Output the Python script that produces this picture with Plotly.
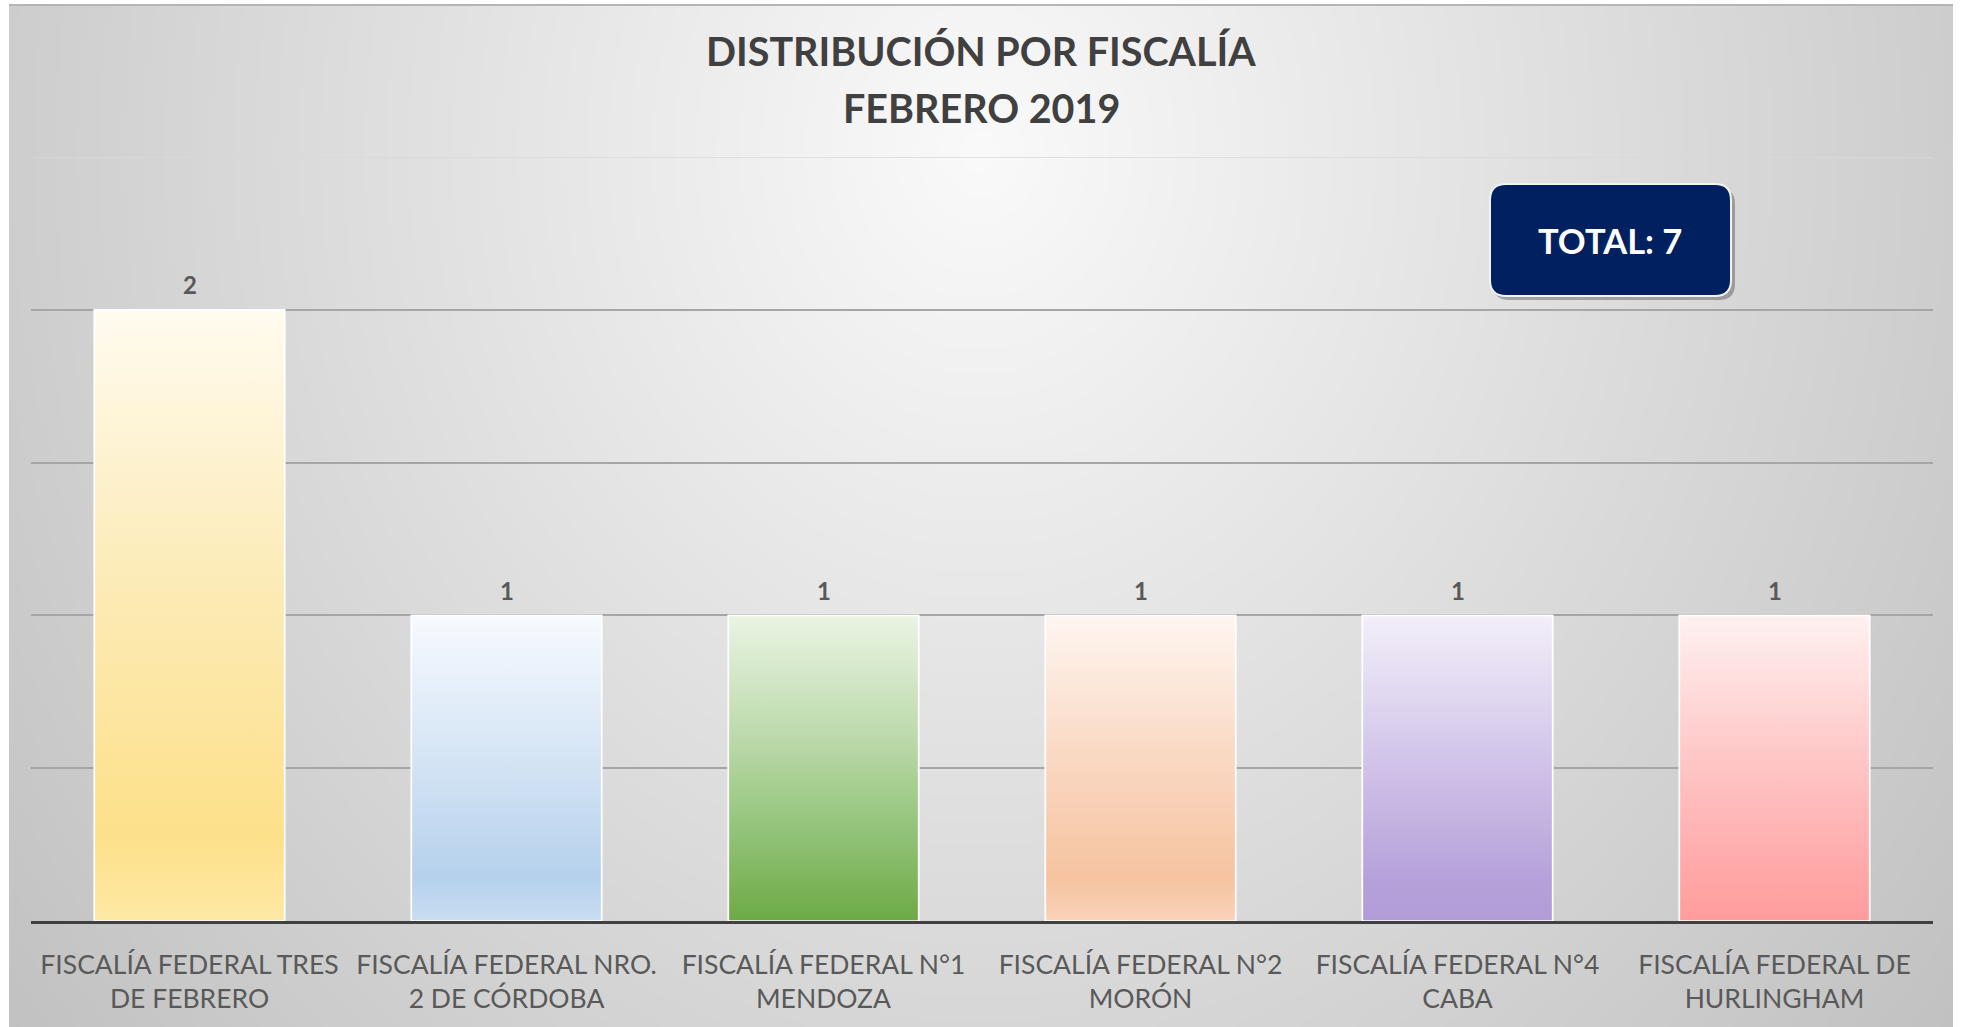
import base64, struct, zlib
import numpy as np
import plotly.graph_objects as go

# ---------------- data ----------------
categories = [
    "FISCALÍA FEDERAL TRES<br>DE FEBRERO",
    "FISCALÍA FEDERAL NRO.<br>2 DE CÓRDOBA",
    "FISCALÍA FEDERAL N°1<br>MENDOZA",
    "FISCALÍA FEDERAL N°2<br>MORÓN",
    "FISCALÍA FEDERAL N°4<br>CABA",
    "FISCALÍA FEDERAL DE<br>HURLINGHAM",
]
values = [2, 1, 1, 1, 1, 1]
total_label = "TOTAL: 7"
title_line1 = "DISTRIBUCIÓN POR FISCALÍA"
title_line2 = "FEBRERO 2019"

# gradient colour stops per bar (bottom -> top)
bar_gradients = [
    [[0, "#FEE8A4"], [0.14, "#FDE08A"], [0.55, "#FCEBB6"], [1, "#FFFBEF"]],
    [[0, "#C9DDF1"], [0.14, "#B5D1EC"], [0.55, "#D6E5F5"], [1, "#F7FAFE"]],
    [[0, "#6DAA45"], [0.3, "#93C47A"], [0.65, "#C2DDB2"], [1, "#EAF4E4"]],
    [[0, "#F9D3B9"], [0.14, "#F6C3A0"], [0.55, "#FAD9C4"], [1, "#FEF6F1"]],
    [[0, "#B19CD8"], [0.14, "#B6A2DA"], [0.55, "#D3C6EA"], [1, "#F3EFF9"]],
    [[0, "#FF9C9C"], [0.14, "#FFA6A6"], [0.55, "#FFC8C8"], [1, "#FFF1F1"]],
]
bar_solid = ["#FDE08A", "#B5D1EC", "#93C47A", "#F6C3A0", "#B6A2DA", "#FFA6A6"]

W, H = 1961, 1027
ML, MR, MT, MB = 31, 28, 157, 106
PW, PH = W - ML - MR, H - MT - MB
BAR_W = 0.6


def px_x(px):
    return (px - ML) / PW


def px_y(py):
    return (H - MB - py) / PH


# ---------------- background gradient image ----------------
def make_png(arr):
    h, w = arr.shape
    raw = b"".join(b"\x00" + arr[i].astype(np.uint8).tobytes() for i in range(h))

    def chunk(tag, data):
        c = struct.pack(">I", len(data)) + tag + data
        return c + struct.pack(">I", zlib.crc32(tag + data) & 0xFFFFFFFF)

    png = b"\x89PNG\r\n\x1a\n"
    png += chunk(b"IHDR", struct.pack(">IIBBBBB", w, h, 8, 0, 0, 0, 0))
    png += chunk(b"IDAT", zlib.compress(raw, 9))
    png += chunk(b"IEND", b"")
    return "data:image/png;base64," + base64.b64encode(png).decode()


gw, gh = 392, 205
bx0, by0, bx1, by1 = 9, 5, 1953, 1027
xs = np.linspace(bx0, bx1, gw)
ys = np.linspace(by0, by1, gh)
XX, YY = np.meshgrid(xs, ys)
t = np.sqrt(((XX - 980) / 1150) ** 2 + ((YY - 150) / 1300) ** 2)
bg = np.clip(250 - 52 * t, 180, 252)
bg_src = make_png(bg)

fig = go.Figure()

xi = list(range(len(values)))
# solid bars (base)
fig.add_trace(go.Bar(
    x=xi, y=values, width=BAR_W,
    marker=dict(color=bar_solid, line=dict(color="white", width=1.5)),
    showlegend=False, hoverinfo="skip",
))

# gradient overlays derived from the same data
for i, v in enumerate(values):
    x0, x1 = i - BAR_W / 2, i + BAR_W / 2
    fig.add_trace(go.Scatter(
        x=[x0, x1, x1, x0, x0], y=[0, 0, v, v, 0],
        mode="lines", fill="toself",
        line=dict(color="white", width=1.5),
        fillgradient=dict(type="vertical", colorscale=bar_gradients[i], start=0, stop=v),
        showlegend=False, hoverinfo="skip",
    ))

shapes = []
shapes.append(dict(type="line", xref="paper", yref="y", x0=0, x1=1, y0=2.5, y1=2.5,
                   line=dict(color="#d9d9d9", width=1.5), layer="below"))
shapes.append(dict(type="line", xref="paper", yref="paper", x0=px_x(bx0), x1=px_x(bx1),
                   y0=px_y(5), y1=px_y(5), line=dict(color="#b5b5b5", width=2)))


def rounded_rect(x0, y0, x1, y1, r):
    X = lambda p: f"{px_x(p):.6f}"
    Y = lambda p: f"{px_y(p):.6f}"
    return (f"M {X(x0 + r)} {Y(y0)} L {X(x1 - r)} {Y(y0)} Q {X(x1)} {Y(y0)} {X(x1)} {Y(y0 + r)} "
            f"L {X(x1)} {Y(y1 - r)} Q {X(x1)} {Y(y1)} {X(x1 - r)} {Y(y1)} "
            f"L {X(x0 + r)} {Y(y1)} Q {X(x0)} {Y(y1)} {X(x0)} {Y(y1 - r)} "
            f"L {X(x0)} {Y(y0 + r)} Q {X(x0)} {Y(y0)} {X(x0 + r)} {Y(y0)} Z")


shapes.append(dict(type="path", xref="paper", yref="paper",
                   path=rounded_rect(1493, 188, 1735, 300, 16),
                   fillcolor="rgba(0,0,0,0.28)", line=dict(width=0)))
shapes.append(dict(type="path", xref="paper", yref="paper",
                   path=rounded_rect(1490, 184, 1731, 296, 16),
                   fillcolor="#002060", line=dict(color="#f2f2f2", width=2)))

annotations = [
    dict(text=title_line1, xref="paper", yref="paper", x=px_x(981), y=px_y(50),
         showarrow=False, xanchor="center", yanchor="middle",
         font=dict(family="Lato", size=39.5, color="#404040", weight="bold")),
    dict(text=title_line2, xref="paper", yref="paper", x=px_x(981), y=px_y(107),
         showarrow=False, xanchor="center", yanchor="middle",
         font=dict(family="Lato", size=39.5, color="#404040", weight="bold")),
    dict(text=total_label, xref="paper", yref="paper", x=px_x(1610), y=px_y(240),
         showarrow=False, xanchor="center", yanchor="middle",
         font=dict(family="Lato", size=34.5, color="white", weight="bold")),
]
# data labels
for i, v in enumerate(values):
    annotations.append(dict(text=str(v), x=i, y=v, xref="x", yref="y", showarrow=False,
                            xanchor="center", yanchor="middle", yshift=25,
                            font=dict(family="Lato", size=24, color="#595959", weight="bold")))

fig.update_layout(
    width=W, height=H,
    margin=dict(l=ML, r=MR, t=MT, b=MB, pad=0),
    paper_bgcolor="white", plot_bgcolor="rgba(0,0,0,0)",
    images=[dict(source=bg_src, xref="paper", yref="paper",
                 x=px_x(bx0), y=px_y(by0), sizex=(bx1 - bx0) / PW, sizey=(by1 - by0) / PH,
                 xanchor="left", yanchor="top", sizing="stretch", layer="below")],
    shapes=shapes, annotations=annotations,
    xaxis=dict(range=[-0.5, len(values) - 0.5], tickvals=xi, ticktext=categories,
               showgrid=False, zeroline=False, showline=True, linecolor="#404040", linewidth=2.5,
               ticks="outside", ticklen=18, tickcolor="rgba(0,0,0,0)",
               tickfont=dict(family="Lato", size=26.5, color="#595959"), fixedrange=True),
    yaxis=dict(range=[0, 2.5], tickvals=[0.5, 1, 1.5, 2], showticklabels=False,
               showgrid=True, gridcolor="#a6a6a6", gridwidth=1.5, zeroline=False,
               showline=False, fixedrange=True),
    bargap=0.4, showlegend=False,
)

fig.write_html("out.html", config={"displayModeBar": False},
               post_script="document.body.style.margin='0';")
